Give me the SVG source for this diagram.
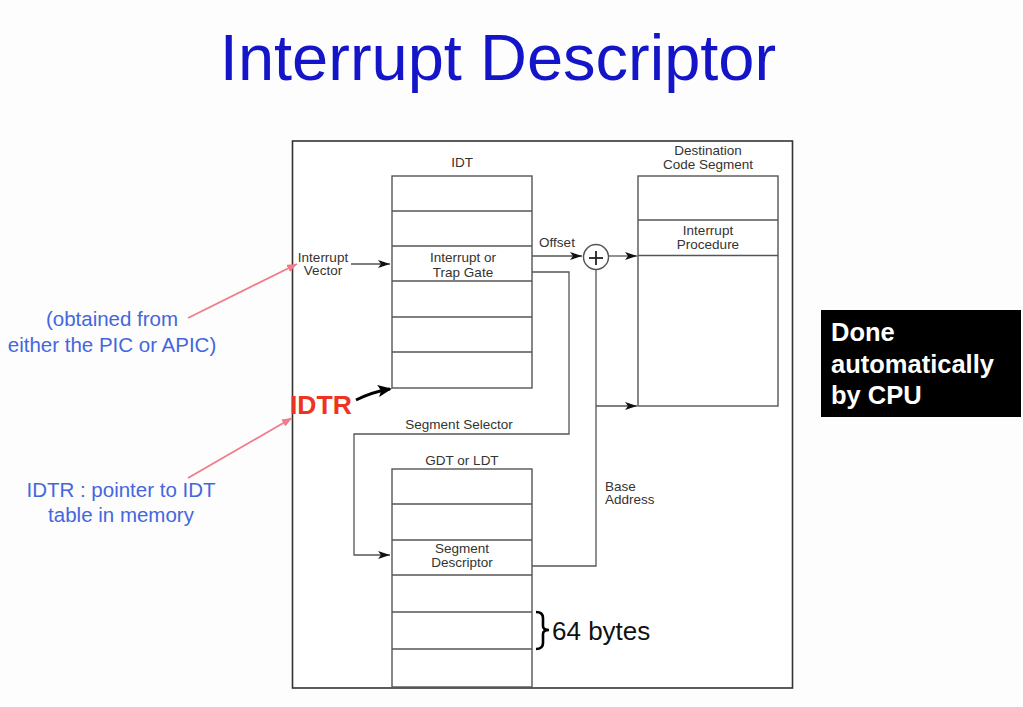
<svg xmlns="http://www.w3.org/2000/svg" width="1023" height="707" viewBox="0 0 1023 707">
  <defs>
    <style>
      .frame { fill: #ffffff; stroke: #333333; stroke-width: 1.6; }
      .box { fill: #ffffff; stroke: #555555; stroke-width: 1.4; }
      .row { stroke: #555555; stroke-width: 1.4; }
      .wire { fill: none; stroke: #555555; stroke-width: 1.3; }
      .lbl { font-family: "Liberation Sans", Arial, sans-serif; font-size: 13.5px; fill: #333333; text-anchor: middle; }
      .lbl-l { font-family: "Liberation Sans", Arial, sans-serif; font-size: 13.5px; fill: #333333; }
      .note { font-family: "Liberation Sans", Arial, sans-serif; font-size: 20.5px; fill: #4466dd; text-anchor: middle; }
      .pink { fill: none; stroke: #f07b8a; stroke-width: 1.8; }
      .callout { font-family: "Liberation Sans", Arial, sans-serif; font-size: 25.5px; font-weight: bold; fill: #ffffff; }
    </style>
    <marker id="ah" viewBox="0 0 12 8" refX="12" refY="4" markerWidth="12" markerHeight="8" markerUnits="userSpaceOnUse" orient="auto">
      <path d="M0,0 L12,4 L0,8 L3,4 Z" fill="#111111"/>
    </marker>
    <marker id="ahPink" viewBox="0 0 10 8" refX="10" refY="4" markerWidth="10" markerHeight="8" markerUnits="userSpaceOnUse" orient="auto">
      <path d="M0,0 L10,4 L0,8 Z" fill="#f07b8a"/>
    </marker>
    <marker id="ahBold" viewBox="0 0 14 12" refX="12" refY="6" markerWidth="14" markerHeight="12" markerUnits="userSpaceOnUse" orient="auto">
      <path d="M0,0 L14,6 L0,12 L3,6 Z" fill="#000000"/>
    </marker>
  </defs>

  <rect width="1023" height="707" fill="#fdfdfd"/>

  <!-- Title -->
  <text x="498" y="80" font-family="Liberation Sans, Arial, sans-serif" font-size="65" fill="#1414c8" text-anchor="middle">Interrupt Descriptor</text>

  <!-- Diagram frame -->
  <rect class="frame" x="292.5" y="141" width="500" height="547"/>

  <!-- IDT table -->
  <g id="idt">
    <text class="lbl" x="462" y="167">IDT</text>
    <rect class="box" x="392" y="176" width="140" height="212"/>
    <line class="row" x1="392" y1="211" x2="532" y2="211"/>
    <line class="row" x1="392" y1="246" x2="532" y2="246"/>
    <line class="row" x1="392" y1="281" x2="532" y2="281"/>
    <line class="row" x1="392" y1="317" x2="532" y2="317"/>
    <line class="row" x1="392" y1="352" x2="532" y2="352"/>
    <text class="lbl" x="463" y="262">Interrupt or</text>
    <text class="lbl" x="463" y="277">Trap Gate</text>
  </g>

  <!-- Destination code segment -->
  <g id="dest-code-segment">
    <text class="lbl" x="708" y="155">Destination</text>
    <text class="lbl" x="708" y="169">Code Segment</text>
    <rect class="box" x="638" y="176" width="140" height="230"/>
    <line class="row" x1="638" y1="220" x2="778" y2="220"/>
    <line class="row" x1="638" y1="255.5" x2="778" y2="255.5"/>
    <text class="lbl" x="708" y="235">Interrupt</text>
    <text class="lbl" x="708" y="249">Procedure</text>
  </g>

  <!-- GDT / LDT table -->
  <g id="gdt-ldt">
    <text class="lbl" x="462" y="465">GDT or LDT</text>
    <rect class="box" x="392" y="469" width="140" height="218"/>
    <line class="row" x1="392" y1="504" x2="532" y2="504"/>
    <line class="row" x1="392" y1="540" x2="532" y2="540"/>
    <line class="row" x1="392" y1="575" x2="532" y2="575"/>
    <line class="row" x1="392" y1="612" x2="532" y2="612"/>
    <line class="row" x1="392" y1="649" x2="532" y2="649"/>
    <text class="lbl" x="462" y="553">Segment</text>
    <text class="lbl" x="462" y="567">Descriptor</text>
  </g>

  <!-- Adder -->
  <g id="adder">
    <circle cx="596" cy="257" r="12.5" fill="#ffffff" stroke="#555555" stroke-width="1.4"/>
    <line x1="589" y1="258" x2="603" y2="258" stroke="#222222" stroke-width="1.8"/>
    <line x1="596" y1="251" x2="596" y2="265" stroke="#222222" stroke-width="1.8"/>
  </g>

  <!-- Connectors -->
  <g id="connectors">
    <line class="wire" x1="351" y1="264" x2="390" y2="264" marker-end="url(#ah)"/>
    <line class="wire" x1="532" y1="256" x2="582" y2="256" marker-end="url(#ah)"/>
    <line class="wire" x1="609" y1="256" x2="637" y2="256" marker-end="url(#ah)"/>
    <polyline class="wire" points="532,272 569,272 569,434 354,434 354,555 390,555" marker-end="url(#ah)"/>
    <polyline class="wire" points="532,566 596,566 596,270"/>
    <line class="wire" x1="596" y1="406" x2="637" y2="406" marker-end="url(#ah)"/>
  </g>

  <!-- Connector labels -->
  <g id="connector-labels">
    <text class="lbl" x="323" y="262">Interrupt</text>
    <text class="lbl" x="323" y="275">Vector</text>
    <text class="lbl" x="557" y="247">Offset</text>
    <text class="lbl" x="459" y="429">Segment Selector</text>
    <text class="lbl-l" x="605" y="491">Base</text>
    <text class="lbl-l" x="605" y="504">Address</text>
  </g>

  <!-- 64 bytes brace -->
  <g id="entry-size">
    <path d="M536,612 Q543,612 543,618 L543,626 Q543,630 549,630 Q543,630 543,634 L543,643 Q543,649 536,649" fill="none" stroke="#000000" stroke-width="2.6"/>
    <text x="552" y="640" font-family="Liberation Sans, Arial, sans-serif" font-size="26" fill="#111111">64 bytes</text>
  </g>

  <!-- IDTR register -->
  <g id="idtr">
    <text x="290" y="414" font-family="Liberation Sans, Arial, sans-serif" font-size="26.5" font-weight="bold" fill="#ee3322">IDTR</text>
    <path d="M356,400 Q372,392 390,389" fill="none" stroke="#000000" stroke-width="3" marker-end="url(#ahBold)"/>
  </g>

  <!-- Annotations -->
  <g id="note-vector">
    <text class="note" x="112" y="326">(obtained from</text>
    <text class="note" x="112" y="352">either the PIC or APIC)</text>
    <line class="pink" x1="188" y1="318" x2="297" y2="264" marker-end="url(#ahPink)"/>
  </g>
  <g id="note-idtr">
    <text class="note" x="121" y="497">IDTR : pointer to IDT</text>
    <text class="note" x="121" y="522">table in memory</text>
    <line class="pink" x1="188" y1="478" x2="292" y2="418" marker-end="url(#ahPink)"/>
  </g>

  <!-- Side callout -->
  <g id="cpu-callout">
    <rect x="821" y="310" width="200" height="107" fill="#000000"/>
    <text class="callout" x="831" y="341">Done</text>
    <text class="callout" x="831" y="373">automatically</text>
    <text class="callout" x="831" y="404">by CPU</text>
  </g>
</svg>
